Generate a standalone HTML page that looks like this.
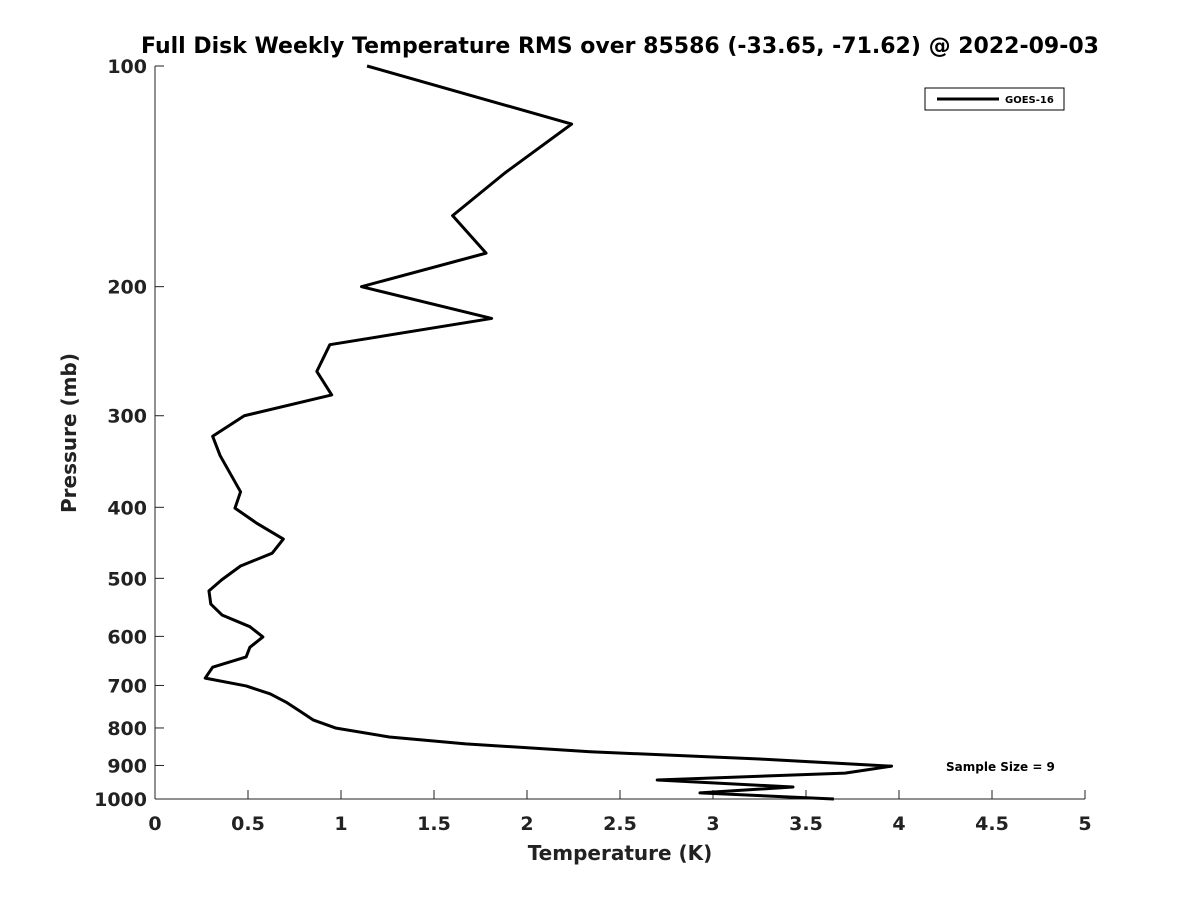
<!DOCTYPE html>
<html><head><meta charset="utf-8"><style>
body{margin:0;background:#fff;}
svg text{font-family:"DejaVu Sans","Liberation Sans",sans-serif;font-weight:bold;fill:#222;}
</style></head><body>
<svg width="1200" height="900">
<text x="620" y="53" text-anchor="middle" font-size="22" style="fill:#000">Full Disk Weekly Temperature RMS over 85586 (-33.65, -71.62) @ 2022-09-03</text>
<g id="axes"></g>
<text x="620" y="860" text-anchor="middle" font-size="20">Temperature (K)</text>
<text transform="translate(76,433) rotate(-90)" text-anchor="middle" font-size="20">Pressure (mb)</text>
<g>
<rect x="925" y="88" width="139" height="22" fill="#fff" stroke="#000" stroke-width="1"/>
<line x1="937" y1="99" x2="999" y2="99" stroke="#000" stroke-width="3"/>
<text x="1005" y="103" font-size="10" style="fill:#000">GOES-16</text>
</g>
<text x="946" y="771" font-size="12" style="fill:#000">Sample Size = 9</text>
</svg>
<script>
const pressures=[100,120,140,160,180,200,221,240,261,281,300,320,340,381,401,421,442,462,481,502,520,542,561,582,601,621,640,661,684,701,719,739,759,780,800,823,841,862,882,902,922,942,963,981,1000];
const temps=[1.14,2.24,1.88,1.60,1.78,1.11,1.81,0.94,0.87,0.95,0.48,0.31,0.35,0.46,0.43,0.55,0.69,0.63,0.46,0.36,0.29,0.30,0.36,0.51,0.58,0.51,0.49,0.31,0.27,0.49,0.62,0.71,0.78,0.85,0.97,1.26,1.67,2.34,3.25,3.96,3.71,2.70,3.43,2.93,3.65];
const xTicks=[0,0.5,1,1.5,2,2.5,3,3.5,4,4.5,5];
const yTicks=[100,200,300,400,500,600,700,800,900,1000];
const X0=155,X1=1085,Y0=66,Y1=799;
const xs=v=>X0+(v-0)/(5-0)*(X1-X0);
const ys=p=>Y0+Math.log10(p/100)*(Y1-Y0);
const NS='http://www.w3.org/2000/svg';
const g=document.getElementById('axes');
function mk(t,a){const e=document.createElementNS(NS,t);for(const k in a)e.setAttribute(k,a[k]);g.appendChild(e);return e;}
const xa=mk('line',{x1:X0,y1:Y1,x2:X1,y2:Y1,stroke:'#222','stroke-width':1});


const ya=mk('line',{x1:X0,y1:Y0,x2:X0,y2:Y1,stroke:'#222','stroke-width':1});


xTicks.forEach(v=>{
 mk('line',{x1:xs(v),y1:Y1,x2:xs(v),y2:Y1-9,stroke:'#222'});
 const t=mk('text',{x:xs(v),y:Y1+31,'text-anchor':'middle','font-size':19});
 t.textContent=String(v);
 
 
});
yTicks.forEach(p=>{
 mk('line',{x1:X0,y1:ys(p),x2:X0+9,y2:ys(p),stroke:'#222'});
 const t=mk('text',{x:X0-8,y:ys(p)+7,'text-anchor':'end','font-size':19});
 t.textContent=String(p);
 
 
});
const pl=mk('polyline',{points:temps.map((t,i)=>xs(t)+','+ys(pressures[i])).join(' '),fill:'none',stroke:'#000','stroke-width':3,'stroke-linejoin':'round'});


</script>
</body></html>
